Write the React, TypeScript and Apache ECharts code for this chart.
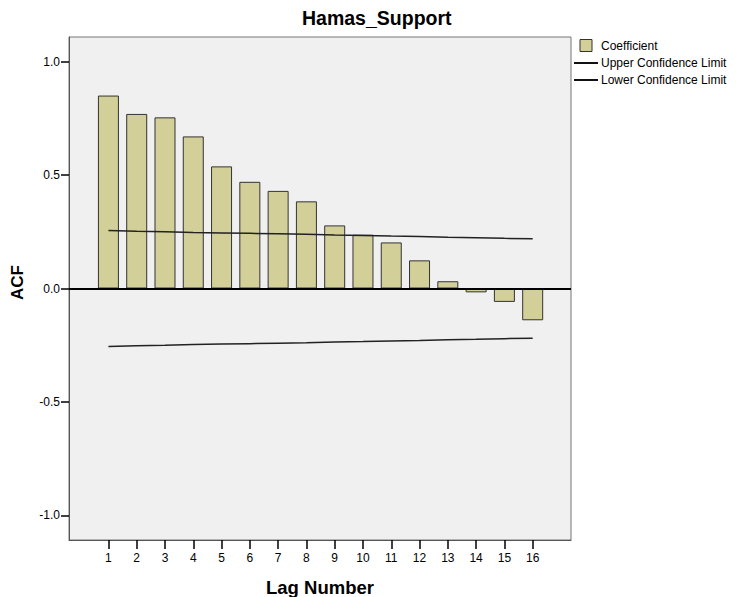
import React, { useEffect, useRef } from "react";
import * as echarts from "echarts";

const lags = [1, 2, 3, 4, 5, 6, 7, 8, 9, 10, 11, 12, 13, 14, 15, 16];
const coefficient = [0.85, 0.769, 0.754, 0.67, 0.538, 0.47, 0.43, 0.384, 0.278, 0.237, 0.203, 0.124, 0.032, -0.017, -0.059, -0.14];
const upperLimit = [0.255, 0.252, 0.25, 0.247, 0.245, 0.243, 0.241, 0.239, 0.236, 0.234, 0.231, 0.229, 0.226, 0.224, 0.221, 0.219];
const lowerLimit = [-0.255, -0.252, -0.25, -0.247, -0.245, -0.243, -0.241, -0.239, -0.236, -0.234, -0.231, -0.229, -0.226, -0.224, -0.221, -0.219];
const yTicks = [-1, -0.5, 0, 0.5, 1];

const FONT = "'Liberation Sans', Arial, sans-serif";

export default function App() {
  const ref = useRef<HTMLDivElement>(null);
  useEffect(() => {
    if (!ref.current) return;
    const chart = echarts.init(ref.current, undefined, { renderer: "svg" });
    chart.setOption({
      animation: false,
      backgroundColor: "#ffffff",
      textStyle: { fontFamily: FONT },
      title: {
        text: "Hamas_Support",
        left: 302,
        top: 8,
        padding: 0,
        textStyle: { fontFamily: FONT, fontSize: 19.5, fontWeight: "bold", color: "#000" },
      },
      legend: {
        orient: "vertical",
        left: 574,
        top: 39,
        padding: 0,
        itemWidth: 24,
        itemHeight: 12,
        itemGap: 5,
        textStyle: { fontFamily: FONT, fontSize: 12, color: "#000", padding: [0, 0, 0, -2] },
        data: [
          { name: "Coefficient", icon: "path://M0,0H12V12H0Z", itemStyle: { color: "#d3cf98", borderColor: "#333", borderWidth: 1 } },
          { name: "Upper Confidence Limit", icon: "path://M0,0H24V2H0Z", itemStyle: { color: "#111" } },
          { name: "Lower Confidence Limit", icon: "path://M0,0H24V2H0Z", itemStyle: { color: "#111" } },
        ],
      },
      grid: {
        left: 69,
        top: 37,
        right: 171,
        bottom: 57,
        containLabel: false,
        outerBoundsMode: "none",
        show: true,
        backgroundColor: "#f0f0f0",
        borderColor: "#777",
        borderWidth: 1,
      },
      xAxis: {
        type: "value",
        min: -0.394,
        max: 17.355,
        name: "Lag Number",
        nameLocation: "middle",
        nameGap: 38,
        nameTextStyle: { fontFamily: FONT, fontSize: 18.5, fontWeight: "bold", color: "#000" },
        axisLine: { show: true, onZero: false, lineStyle: { color: "#555", width: 1 } },
        axisTick: { show: true, length: 9, lineStyle: { color: "#000", width: 1.5 }, customValues: lags },
        axisLabel: { margin: 12, fontFamily: FONT, fontSize: 12, color: "#000", customValues: lags, formatter: (v: number) => String(v) },
        splitLine: { show: false },
      },
      yAxis: {
        type: "value",
        min: -1.108,
        max: 1.108,
        name: "ACF",
        nameLocation: "middle",
        nameGap: 43,
        nameTextStyle: { fontFamily: FONT, fontSize: 17, fontWeight: "bold", color: "#000", padding: [0, 0, 0, 12] },
        axisLine: { show: true, onZero: false, lineStyle: { color: "#555", width: 1 } },
        axisTick: { show: true, length: 8, lineStyle: { color: "#000", width: 1.5 }, customValues: yTicks },
        axisLabel: { margin: 9, fontFamily: FONT, fontSize: 12, color: "#000", customValues: yTicks, formatter: (v: number) => v.toFixed(1) },
        splitLine: { show: false },
      },
      series: [
        {
          name: "Coefficient",
          type: "bar",
          barWidth: 21,
          data: lags.map((l, i) => [l, coefficient[i]]),
          itemStyle: { color: "#d3cf98", borderColor: "#333", borderWidth: 1 },
          markLine: {
            silent: true,
            symbol: "none",
            label: { show: false },
            lineStyle: { color: "#000", width: 2, type: "solid" },
            data: [{ yAxis: 0 }],
          },
          z: 2,
        },
        {
          name: "Upper Confidence Limit",
          type: "line",
          data: lags.map((l, i) => [l, upperLimit[i]]),
          showSymbol: false,
          lineStyle: { color: "#222", width: 1.5 },
          itemStyle: { color: "#111" },
          z: 3,
        },
        {
          name: "Lower Confidence Limit",
          type: "line",
          data: lags.map((l, i) => [l, lowerLimit[i]]),
          showSymbol: false,
          lineStyle: { color: "#222", width: 1.5 },
          itemStyle: { color: "#111" },
          z: 3,
        },
      ],
    });
    return () => chart.dispose();
  }, []);
  return <div ref={ref} style={{ position: "fixed", left: 0, top: 0, width: 742, height: 597 }} />;
}
